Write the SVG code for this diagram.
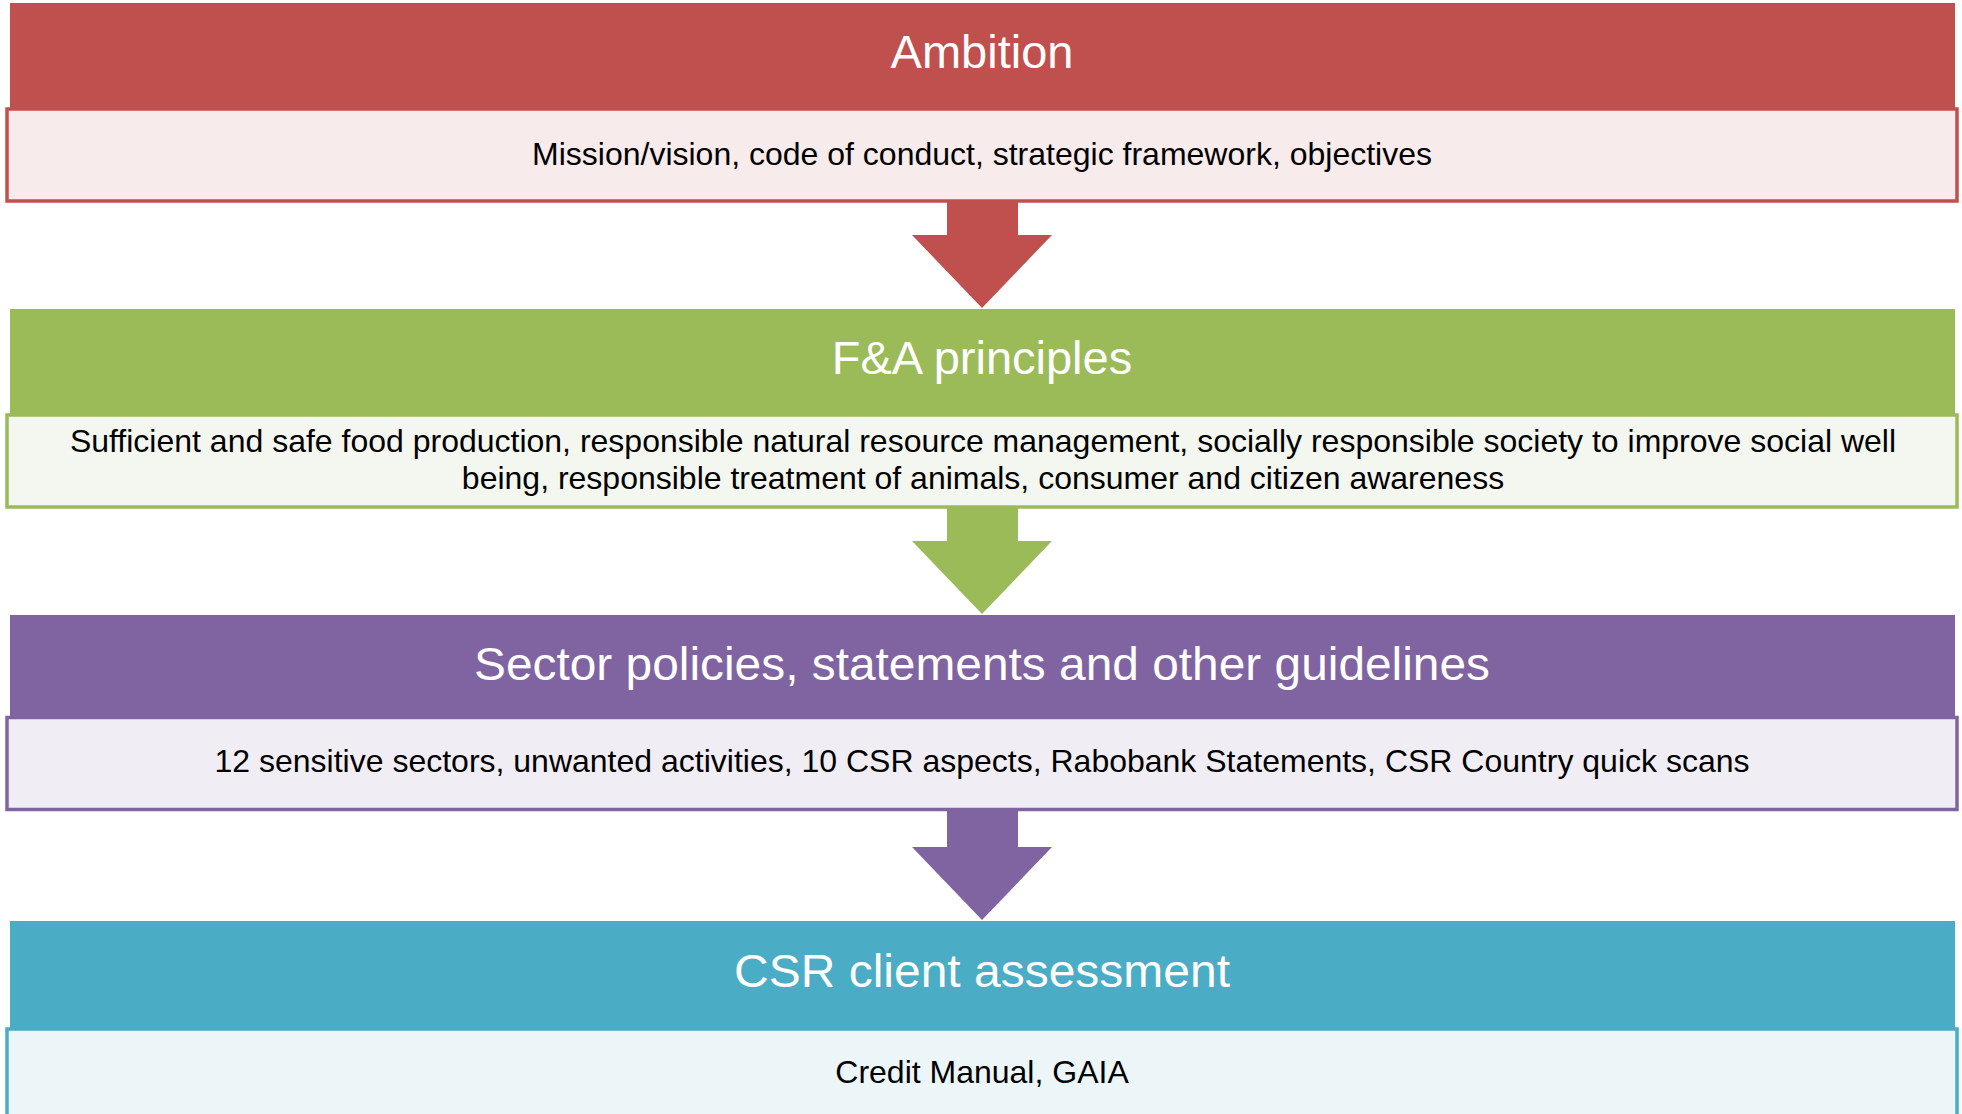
<svg xmlns="http://www.w3.org/2000/svg" width="1962" height="1114" viewBox="0 0 1962 1114">
  <style>
    .hd { font-family: "Liberation Sans", Arial, sans-serif; font-size: 47px; fill: #ffffff; text-anchor: middle; }
    .bd { font-family: "Liberation Sans", Arial, sans-serif; font-size: 32px; fill: #000000; text-anchor: middle; }
    .box { stroke-width: 3.5; }
  </style>
  <rect x="0" y="0" width="1962" height="1114" fill="#ffffff"/>

  <g id="connectors">
    <polygon points="947,201 1018,201 1018,235 1052,235 982,308 912,235 947,235" fill="#C0504D"/>
    <polygon points="947,507 1018,507 1018,541 1052,541 982,614 912,541 947,541" fill="#9BBB59"/>
    <polygon points="947,809 1018,809 1018,847 1052,847 982,920 912,847 947,847" fill="#8064A2"/>
  </g>

  <g id="ambition">
    <rect x="10" y="3" width="1945" height="107" fill="#C0504D"/>
    <rect class="box" x="7" y="109" width="1950" height="92" fill="#F7EBEB" stroke="#C0504D"/>
    <text class="hd" x="982" y="68">Ambition</text>
    <text class="bd" x="982" y="165">Mission/vision, code of conduct, strategic framework, objectives</text>
  </g>

  <g id="fa-principles">
    <rect x="10" y="309" width="1945" height="106" fill="#9BBB59"/>
    <rect class="box" x="7" y="415" width="1950" height="92" fill="#F4F7EF" stroke="#9BBB59"/>
    <text class="hd" x="982" y="374">F&amp;A principles</text>
    <text class="bd" x="983" y="452">Sufficient and safe food production, responsible natural resource management, socially responsible society to improve social  well</text>
    <text class="bd" x="983" y="489">being, responsible treatment of animals, consumer and citizen awareness</text>
  </g>

  <g id="sector-policies">
    <rect x="10" y="615" width="1945" height="102" fill="#8064A2"/>
    <rect class="box" x="7" y="717.5" width="1950" height="92" fill="#F0EEF4" stroke="#8064A2"/>
    <text class="hd" x="982" y="680" textLength="1016" lengthAdjust="spacingAndGlyphs">Sector policies, statements and other guidelines</text>
    <text class="bd" x="982" y="772">12 sensitive sectors, unwanted activities, 10 CSR aspects, Rabobank Statements, CSR Country quick scans</text>
  </g>

  <g id="csr-assessment">
    <rect x="10" y="921" width="1945" height="107" fill="#4BACC6"/>
    <rect class="box" x="7" y="1029" width="1950" height="100" fill="#ECF5F8" stroke="#4BACC6"/>
    <text class="hd" x="982" y="987" textLength="496" lengthAdjust="spacingAndGlyphs">CSR client assessment</text>
    <text class="bd" x="982" y="1083">Credit Manual, GAIA</text>
  </g>
</svg>
